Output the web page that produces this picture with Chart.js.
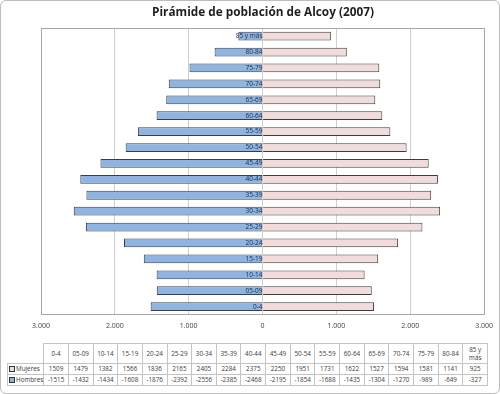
<!DOCTYPE html>
<html>
<head>
<meta charset="utf-8">
<script src="https://cdn.jsdelivr.net/npm/chart.js@4/dist/chart.umd.min.js"></script>
<style>
  html, body { margin: 0; padding: 0; background: #ffffff; }
  #wrap { position: relative; width: 500px; height: 394px; overflow: hidden; background: #fff; }
  #frame { position: absolute; left: 0; top: 0; width: 500px; height: 394px; box-sizing: border-box;
           border: 1px solid #bdbdbd; border-radius: 6px; pointer-events: none; }
  #c { position: absolute; left: 0; top: 0; }
  #tbl { position: absolute; left: 7px; top: 343px; border-collapse: collapse; table-layout: fixed;
         font-family: "Open Sans", "Liberation Sans", sans-serif; font-size: 6.3px; color: #3a3a3a; }
  #tbl td { border: 1px solid #c4c4c4; text-align: center; padding: 0; overflow: hidden; line-height: 8px; }
  #tbl td.blank { border: none; }
  #tbl tr.hdr td { height: 19px; }
  #tbl tr.row td { height: 10px; }
  #tbl td.lg { text-align: left; white-space: nowrap; padding-left: 1px; }
  .mk { display: inline-block; width: 4px; height: 4px; border: 1px solid #333; margin-right: 1px; vertical-align: -1px; }
</style>
</head>
<body>
<div id="wrap">
  <canvas id="c" width="500" height="340"></canvas>
  <table id="tbl"></table>
  <div id="frame"></div>
</div>
<script>
const categories = ["0-4","05-09","10-14","15-19","20-24","25-29","30-34","35-39","40-44","45-49","50-54","55-59","60-64","65-69","70-74","75-79","80-84","85 y más"];
const mujeres = [1509,1479,1382,1566,1836,2165,2405,2284,2375,2250,1951,1731,1622,1527,1594,1581,1141,925];
const hombres = [-1515,-1432,-1434,-1608,-1876,-2392,-2556,-2385,-2468,-2195,-1854,-1688,-1435,-1304,-1270,-989,-649,-327];
const seriesNames = ["Mujeres","Hombres"];
const xTicks = [-3000,-2000,-1000,0,1000,2000,3000];
const title = "Pirámide de población de Alcoy (2007)";

const pinkFill = "#f2dcdb", blueFill = "#8db4e2", barBorder = "#3d3d3d";

function fmt(v) {
  const n = Math.abs(v);
  if (n >= 1000) return Math.floor(n / 1000) + "." + String(n % 1000).padStart(3, "0");
  return String(n);
}

const areaBorder = {
  id: "areaBorder",
  afterDraw(chart) {
    const a = chart.chartArea, ctx = chart.ctx;
    ctx.save();
    ctx.strokeStyle = "#a6a6a6";
    ctx.lineWidth = 1;
    ctx.strokeRect(Math.round(a.left) + 0.5, Math.round(a.top) + 0.5, Math.round(a.right - a.left), Math.round(a.bottom - a.top));
    ctx.restore();
  }
};

new Chart(document.getElementById("c"), {
  type: "bar",
  data: {
    labels: categories,
    datasets: [
      { label: seriesNames[0], data: mujeres, backgroundColor: pinkFill, borderColor: barBorder, borderWidth: 1,
        barPercentage: 0.55, categoryPercentage: 1 },
      { label: seriesNames[1], data: hombres, backgroundColor: blueFill, borderColor: barBorder, borderWidth: 1,
        barPercentage: 0.55, categoryPercentage: 1 }
    ]
  },
  options: {
    indexAxis: "y",
    responsive: false,
    animation: false,
    devicePixelRatio: 1,
    layout: { padding: { left: 41, right: 15, top: 0, bottom: 3 } },
    plugins: {
      legend: { display: false },
      tooltip: { enabled: false },
      title: { display: true, text: title, color: "#1f1f1f",
               font: { family: "'Open Sans', sans-serif", size: 11.8, weight: "bold" },
               padding: { top: 6, bottom: 8 } }
    },
    scales: {
      x: {
        type: "linear", min: -3000, max: 3000, stacked: true,
        afterBuildTicks(scale) { scale.ticks = xTicks.map(v => ({ value: v })); },
        ticks: { callback: v => fmt(v), color: "#404040", padding: 7, maxRotation: 0,
                 font: { family: "'Open Sans', sans-serif", size: 7 } },
        grid: { drawTicks: false, color: ctx => (Math.abs(ctx.tick.value) === 3000 ? "#a6a6a6" : "#cfcfcf") },
        border: { color: "#a6a6a6" }
      },
      y: {
        type: "category", stacked: true, reverse: true, position: { x: 0 },
        grid: { display: false, drawTicks: false },
        border: { display: false },
        ticks: { z: 1, color: "#1f2a44", padding: 5, autoSkip: false,
                 font: { family: "'Open Sans', sans-serif", size: 6.5 } }
      }
    }
  },
  plugins: [areaBorder]
});

// data table
const tbl = document.getElementById("tbl");
const colW = 444 / categories.length;
let html = '<colgroup><col style="width:34px">' + categories.map(() => '<col style="width:' + colW + 'px">').join("") + '</colgroup>';
html += '<tr class="hdr"><td class="blank"></td>' + categories.map(c => '<td>' + c + '</td>').join("") + '</tr>';
html += '<tr class="row"><td class="lg"><span class="mk" style="background:' + pinkFill + '"></span>' + seriesNames[0] + '</td>' + mujeres.map(v => '<td>' + v + '</td>').join("") + '</tr>';
html += '<tr class="row"><td class="lg"><span class="mk" style="background:' + blueFill + '"></span>' + seriesNames[1] + '</td>' + hombres.map(v => '<td>' + v + '</td>').join("") + '</tr>';
tbl.innerHTML = html;
</script>
</body>
</html>
